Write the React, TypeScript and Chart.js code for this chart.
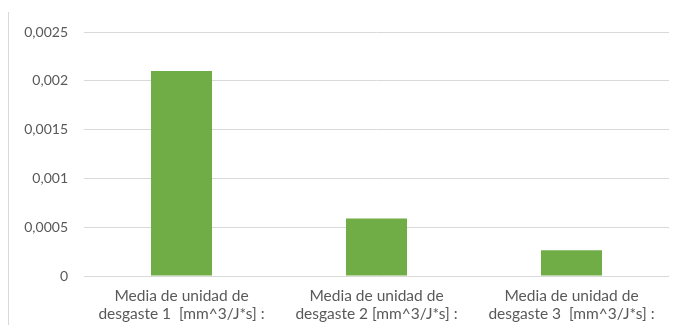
import React, { useEffect, useRef } from "react";
import { Chart, registerables } from "chart.js";

Chart.register(...registerables);

const categories: string[][] = [
  ["Media de unidad de", "desgaste 1  [mm^3/J*s] :"],
  ["Media de unidad de", "desgaste 2 [mm^3/J*s] :"],
  ["Media de unidad de", "desgaste 3  [mm^3/J*s] :"],
];
const values: number[] = [0.0021, 0.00059, 0.000265];
const yTickLabels: string[] = ["0", "0,0005", "0,001", "0,0015", "0,002", "0,0025"];
const yMax = 0.0025;
const yStep = 0.0005;

export default function App() {
  const ref = useRef<HTMLCanvasElement | null>(null);
  useEffect(() => {
    if (!ref.current) return;
    const family = "Lato, 'Open Sans', sans-serif";
    const chart = new Chart(ref.current, {
      type: "bar",
      data: {
        labels: categories,
        datasets: [
          {
            data: values,
            backgroundColor: "#70ad47",
            borderWidth: 0,
            barPercentage: 0.313,
            categoryPercentage: 1,
          },
        ],
      },
      options: {
        animation: false,
        responsive: false,
        maintainAspectRatio: false,
        layout: { padding: { top: 32, right: 5, bottom: 2, left: 0 } },
        plugins: { legend: { display: false }, tooltip: { enabled: false } },
        scales: {
          x: {
            grid: { display: false, drawTicks: false, tickLength: 0 },
            border: { display: false },
            ticks: {
              color: "#595959",
              font: { family, size: 15.5, lineHeight: 1.15 },
              maxRotation: 0,
              autoSkip: false,
              padding: 11,
            },
            afterFit: (s: any) => {
              s.height = 47;
            },
          },
          y: {
            min: 0,
            max: yMax,
            grid: { color: "#d9d9d9", lineWidth: 1, drawTicks: false },
            border: { display: false },
            ticks: {
              stepSize: yStep,
              color: "#595959",
              font: { family, size: 14 },
              padding: 16,
              callback: (_v: any, i: number) => yTickLabels[i],
            },
            afterFit: (s: any) => {
              s.width = 84;
            },
          },
        },
      },
    });
    return () => chart.destroy();
  }, []);
  return (
    <div style={{ position: "fixed", left: 0, top: 0, width: 674, height: 325, background: "#fff" }}>
      <div
        style={{
          position: "absolute",
          left: 8,
          top: 12,
          bottom: 0,
          width: 0,
          borderLeft: "1px solid #d9d9d9",
        }}
      />
      <canvas ref={ref} width={674} height={325} style={{ position: "absolute", left: 0, top: 0 }} />
    </div>
  );
}
